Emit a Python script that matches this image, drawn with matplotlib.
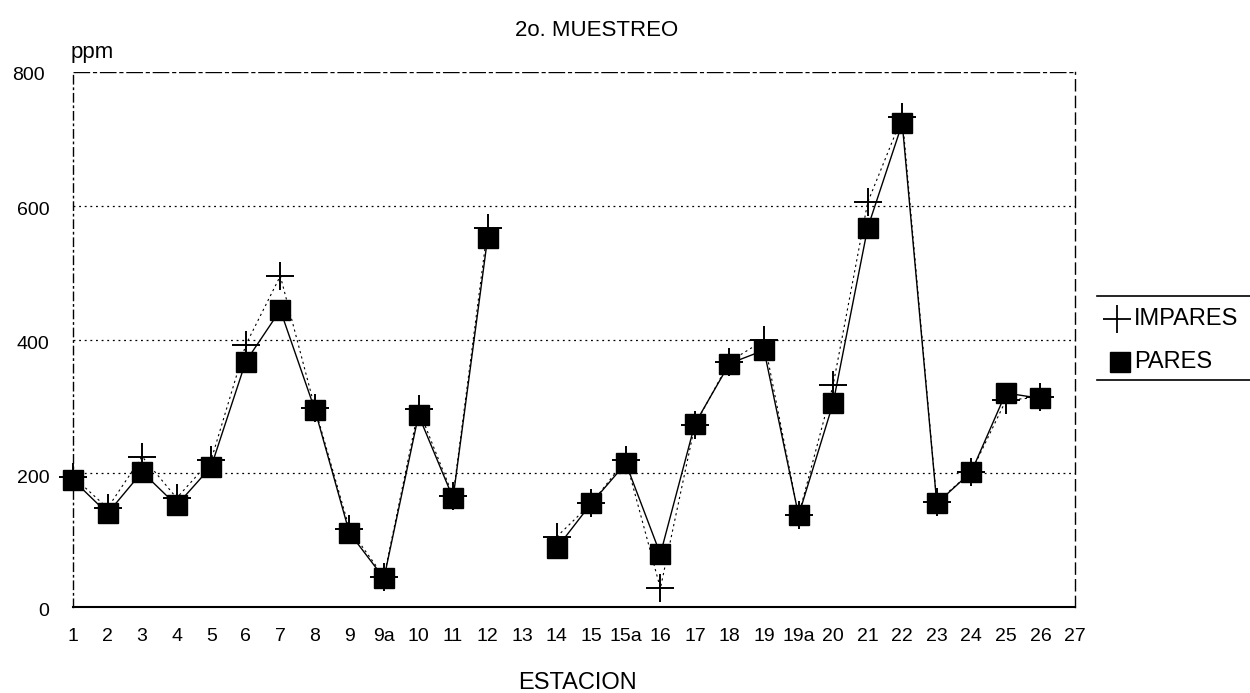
import matplotlib
matplotlib.use("Agg")
import matplotlib.pyplot as plt
import matplotlib.transforms as mtransforms
import numpy as np
from matplotlib.lines import Line2D

plt.rcParams['font.family'] = ['Liberation Sans', 'DejaVu Sans']

estaciones = ["1", "2", "3", "4", "5", "6", "7", "8", "9", "9a", "10", "11", "12", "13",
              "14", "15", "15a", "16", "17", "18", "19", "19a", "20", "21", "22", "23",
              "24", "25", "26", "27"]
impares = [195, 148, 225, 163, 220, 392, 495, 298, 117, 45, 296, 166, 567, np.nan,
           105, 155, 220, 28, 272, 367, 399, 137, 332, 605, 733, 157, 202, 309, 314, np.nan]
pares = [190, 140, 202, 152, 210, 367, 444, 295, 111, 43, 287, 163, 552, np.nan,
         88, 155, 215, 79, 274, 364, 384, 137, 305, 567, 723, 155, 202, 320, 312, np.nan]
yticks = [0, 200, 400, 600, 800]

W, H = 1250, 693
fig = plt.figure(figsize=(W/100, H/100), dpi=100)
ax = fig.add_axes([73/W, 1-607/H, (1075-73)/W, (607-72)/H])
x = np.arange(len(estaciones))

ax.plot(x, impares, color='black', lw=0.8, ls=(0, (2, 3)), marker='+', ms=20,
        mew=1.4, clip_on=False, zorder=3)
ax.plot(x, pares, color='black', lw=1.0, ls='-', marker='s', ms=15,
        mfc='black', mec='black', clip_on=False, zorder=4)

ax.set_xlim(0, len(estaciones) - 1)
ax.set_ylim(0, 800)
ax.set_yticks(yticks[:-1])
ax.set_yticklabels([str(v) for v in yticks[:-1]], fontsize=14)
ax.set_xticks(x)
ax.set_xticklabels(estaciones, fontsize=14)
ax.tick_params(length=0)
ax.tick_params(axis='y', pad=17)
ax.tick_params(axis='x', pad=15)
shift = mtransforms.ScaledTranslation(0, -3/100, fig.dpi_scale_trans)
for lab in ax.get_yticklabels():
    lab.set_transform(lab.get_transform() + shift)
for v in [200, 400, 600]:
    ax.axhline(v, color='black', lw=0.9, ls=(0, (1.5, 3)), zorder=1)
ax.axhline(800, color='black', lw=1.0, ls=(0, (12, 2, 3, 2)), zorder=1)
fig.text(45/W, 1-76/H, "800", ha='right', va='center', fontsize=14)

ax.spines['top'].set_visible(False)
ax.spines['left'].set_linestyle((0, (6, 3, 1, 3)))
ax.spines['left'].set_linewidth(1.0)
ax.spines['right'].set_linestyle((0, (8, 4)))
ax.spines['right'].set_linewidth(1.0)
ax.spines['bottom'].set_linewidth(1.5)

fig.text(71/W, 1-58/H, "ppm", ha='left', va='baseline', fontsize=16)
fig.text(597/W, 1-36/H, "2o. MUESTREO", ha='center', va='baseline', fontsize=16)
fig.text(577/W, 1-689/H, "ESTACION", ha='center', va='baseline', fontsize=17)

# legend (drawn in figure coordinates)
fig.add_artist(Line2D([1117/W], [1-319/H], color='black', marker='+', ms=20, mew=1.3, ls='none'))
fig.add_artist(Line2D([1120/W], [1-362/H], color='black', marker='s', ms=14, ls='none'))
fig.text(1134/W, 1-319/H, "IMPARES", ha='left', va='center', fontsize=17)
fig.text(1134/W, 1-362/H, "PARES", ha='left', va='center', fontsize=17)
fig.add_artist(Line2D([1097/W, 1.0], [1-296/H, 1-296/H], color='black', lw=1.2))
fig.add_artist(Line2D([1097/W, 1.0], [1-380/H, 1-380/H], color='black', lw=1.2))

fig.savefig("out.png", dpi=100)
